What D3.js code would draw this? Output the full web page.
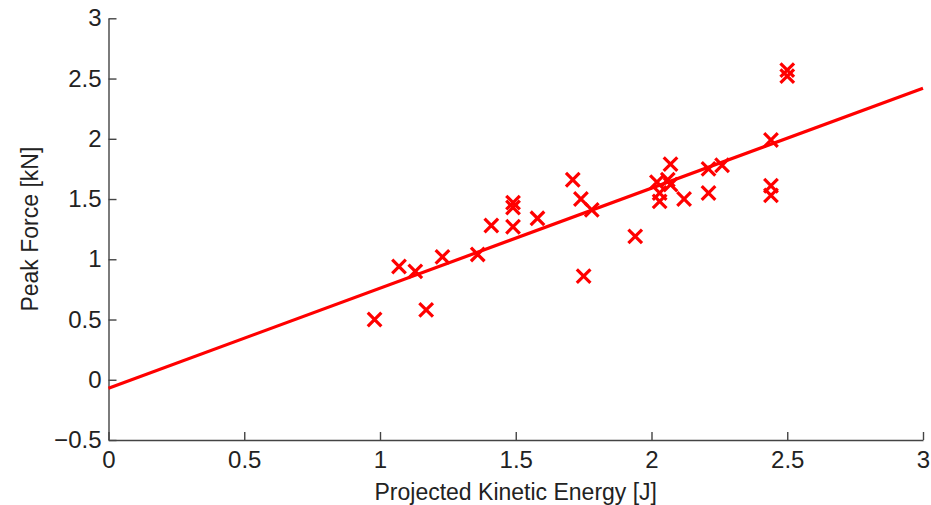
<!DOCTYPE html>
<html>
<head>
<meta charset="utf-8">
<script src="https://cdn.jsdelivr.net/npm/d3@7.9.0/dist/d3.min.js"></script>
<style>
  html, body { margin: 0; padding: 0; background: #fff; }
  svg { display: block; font-family: 'Liberation Sans', Arial, sans-serif; }
</style>
</head>
<body>
<svg id="chart" width="931" height="505"></svg>
<script>
// measured points (projected KE vs peak force)
const energy = [0.98, 1.07, 1.13, 1.17, 1.23, 1.36, 1.41, 1.49, 1.49, 1.49,
  1.58, 1.71, 1.74, 1.75, 1.78, 1.94, 2.02, 2.03, 2.03, 2.06,
  2.07, 2.07, 2.12, 2.21, 2.21, 2.26, 2.44, 2.44, 2.44, 2.50, 2.50];
const force = [0.50, 0.94, 0.90, 0.58, 1.02, 1.04, 1.28, 1.47, 1.43, 1.27,
  1.34, 1.66, 1.50, 0.86, 1.41, 1.19, 1.64, 1.55, 1.48, 1.66,
  1.62, 1.79, 1.50, 1.75, 1.55, 1.78, 1.99, 1.61, 1.53, 2.57, 2.52];

// linear fit endpoints
const fitX = [0, 3];
const fitY = [-0.07, 2.42];

const xTicks = [0, 0.5, 1, 1.5, 2, 2.5, 3];
const yTicks = [-0.5, 0, 0.5, 1, 1.5, 2, 2.5, 3];

const xLabel = 'Projected Kinetic Energy [J]';
const yLabel = 'Peak Force [kN]';

const svg = d3.select('#chart');

const x = d3.scaleLinear().domain([0, 3]).range([108.5, 923]);
const y = d3.scaleLinear().domain([-0.5, 3]).range([440, 18.3]);

const fmt = (d) => (d < 0 ? '\u22120.5' : String(d));

const gx = svg.append('g')
  .attr('transform', `translate(0,${y(-0.5)})`)
  .call(d3.axisBottom(x).tickValues(xTicks).tickFormat(fmt)
    .tickSizeInner(-8).tickSizeOuter(0).tickPadding(11));

const gy = svg.append('g')
  .attr('transform', `translate(${x(0)},0)`)
  .call(d3.axisLeft(y).tickValues(yTicks).tickFormat(fmt)
    .tickSizeInner(-8).tickSizeOuter(0).tickPadding(7));

[gx, gy].forEach((g) => {
  g.select('.domain').attr('stroke', '#444').attr('stroke-width', 1.4);
  g.selectAll('.tick line').attr('stroke', '#444').attr('stroke-width', 1.4);
  g.selectAll('.tick text')
    .attr('fill', '#222')
    .style('font-size', '24px')
    .style('font-family', "'Liberation Sans', Arial, sans-serif");
});

// fit line
const line = d3.line()
  .x((d) => x(d[0]))
  .y((d) => y(d[1]));

svg.append('path')
  .datum(d3.zip(fitX, fitY))
  .attr('d', line)
  .attr('fill', 'none')
  .attr('stroke', '#ff0000')
  .attr('stroke-width', 3.2);

// x markers
const s = 6.8;
const pts = d3.zip(energy, force);
svg.append('g')
  .selectAll('path')
  .data(pts)
  .join('path')
  .attr('d', (d) => {
    const cx = x(d[0]);
    const cy = y(d[1]);
    return `M${cx - s},${cy - s}L${cx + s},${cy + s}M${cx - s},${cy + s}L${cx + s},${cy - s}`;
  })
  .attr('fill', 'none')
  .attr('stroke', '#ff0000')
  .attr('stroke-width', 3.2);

svg.append('text')
  .attr('x', (x(0) + x(3)) / 2)
  .attr('y', 500)
  .attr('text-anchor', 'middle')
  .attr('fill', '#222')
  .style('font-size', '23px')
  .text(xLabel);

svg.append('text')
  .attr('transform', `translate(38,${(y(-0.5) + y(3)) / 2}) rotate(-90)`)
  .attr('text-anchor', 'middle')
  .attr('fill', '#222')
  .style('font-size', '23px')
  .text(yLabel);
</script>
</body>
</html>
